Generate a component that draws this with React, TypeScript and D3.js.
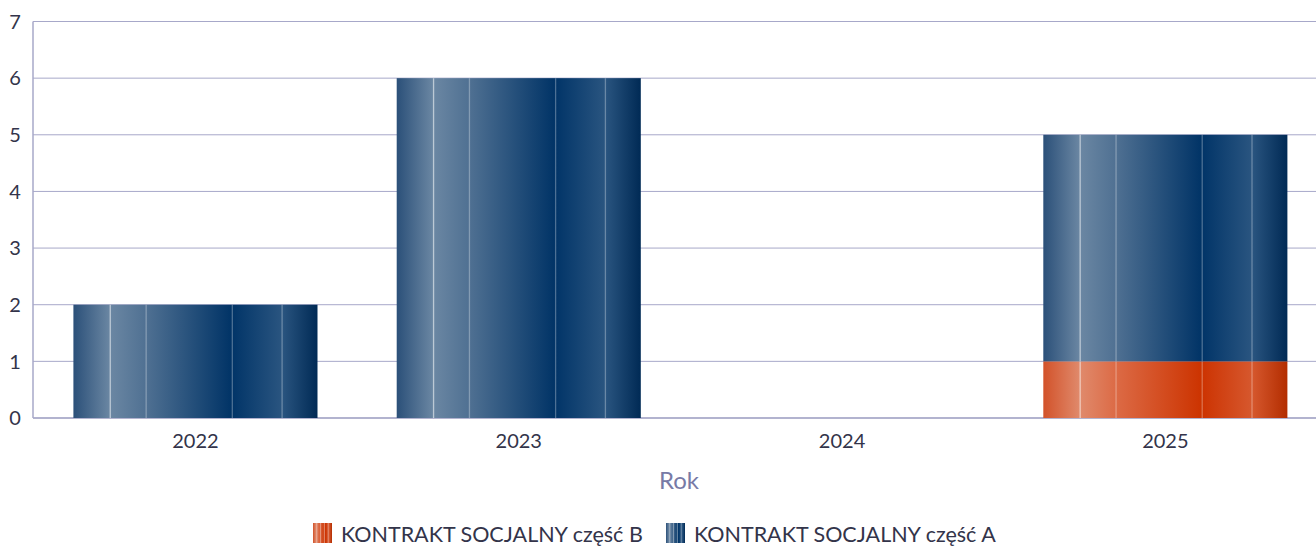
import React from "react";
import * as d3 from "d3";

const categories = ["2022", "2023", "2024", "2025"];
const seriesB = [0, 0, 0, 1]; // KONTRAKT SOCJALNY część B
const seriesA = [2, 6, 0, 4]; // KONTRAKT SOCJALNY część A
const yTicks = [0, 1, 2, 3, 4, 5, 6, 7];
const seriesNames = ["KONTRAKT SOCJALNY część B", "KONTRAKT SOCJALNY część A"];

const W = 1316;
const H = 547;
const FONT = "Lato, sans-serif";

const blueStops = [
  [0, "#2b5079"], [0.15, "#6b87a3"], [0.3, "#4f7092"], [0.65, "#003366"],
  [0.66, "#033669"], [0.855, "#2a5580"], [1, "#002a55"],
];
const orangeStops = [
  [0, "#d2522a"], [0.15, "#e08a6c"], [0.3, "#dc6a45"], [0.65, "#cc3300"],
  [0.66, "#cd3504"], [0.855, "#d6582e"], [1, "#b32d00"],
];
const lineFracs = [0.151, 0.298, 0.651, 0.855];

export default function App() {
  const x = d3.scaleBand<string>().domain(categories).range([33.8, 1327]).paddingInner(0.245).paddingOuter(0.1225);
  const y = d3.scaleLinear().domain([0, 7]).range([418, 21.5]);
  const bw = x.bandwidth();

  const stacks = d3.stack<any>().keys(["B", "A"])(
    categories.map((c, i) => ({ cat: c, B: seriesB[i], A: seriesA[i] }))
  );
  const fills = ["url(#gradB)", "url(#gradA)"];

  return (
    <svg width={W} height={H} style={{ display: "block", position: "absolute", left: 0, top: 0 }}>
      <defs>
        <linearGradient id="gradA" x1="0" x2="1" y1="0" y2="0">
          {blueStops.map(([o, c], i) => <stop key={i} offset={o as number} stopColor={c as string} />)}
        </linearGradient>
        <linearGradient id="gradB" x1="0" x2="1" y1="0" y2="0">
          {orangeStops.map(([o, c], i) => <stop key={i} offset={o as number} stopColor={c as string} />)}
        </linearGradient>
      </defs>
      <rect width={W} height={H} fill="#fff" />
      {yTicks.map((t) => (
        <g key={t}>
          <line x1={33} x2={W} y1={y(t)} y2={y(t)} stroke="#a7a8c9" strokeWidth={1} />
          <text x={15} y={y(t)} dy="0.36em" textAnchor="middle" fontFamily={FONT} fontSize={20} fill="#33344a">{t}</text>
        </g>
      ))}
      <line x1={33} x2={33} y1={y(7)} y2={y(0)} stroke="#a7a8c9" strokeWidth={1.5} />
      <line x1={33} x2={W} y1={y(0)} y2={y(0)} stroke="#a7a8c9" strokeWidth={1.5} />
      {stacks.map((s, si) => (
        <g key={si}>
          {s.map((d, i) => {
            const h = y(d[0]) - y(d[1]);
            if (h <= 0) return null;
            const bx = x(categories[i])!;
            return (
              <g key={i}>
                <rect x={bx} y={y(d[1])} width={bw} height={h} fill={fills[si]} />
                {lineFracs.map((f, li) => (
                  <line key={li} x1={bx + f * bw} x2={bx + f * bw} y1={y(d[1])} y2={y(d[0])}
                    stroke="#ffffff" strokeOpacity={li === 0 ? 0.55 : 0.3} strokeWidth={1.3} />
                ))}
              </g>
            );
          })}
        </g>
      ))}
      {categories.map((c) => (
        <text key={c} x={x(c)! + bw / 2} y={441} dy="0.36em" textAnchor="middle" fontFamily={FONT} fontSize={20} fill="#33344a">{c}</text>
      ))}
      <text x={679} y={480} dy="0.36em" textAnchor="middle" fontFamily={FONT} fontSize={24} fill="#777aa6">Rok</text>
      {seriesNames.map((n, i) => {
        const lx = i === 0 ? 313 : 666;
        const stripes = [0, 0.2, 0.4, 0.6, 0.8];
        return (
          <g key={n}>
            <rect x={lx} y={523} width={19} height={20} fill={i === 0 ? "url(#gradB)" : "url(#gradA)"} />
            {stripes.slice(1).map((f, k) => (
              <line key={k} x1={lx + f * 19} x2={lx + f * 19} y1={523} y2={543} stroke="#fff" strokeOpacity={0.4} strokeWidth={1} />
            ))}
            <text x={lx + 28} y={534} dy="0.36em" fontFamily={FONT} fontSize={21.5} fill="#33344a">{n}</text>
          </g>
        );
      })}
    </svg>
  );
}
